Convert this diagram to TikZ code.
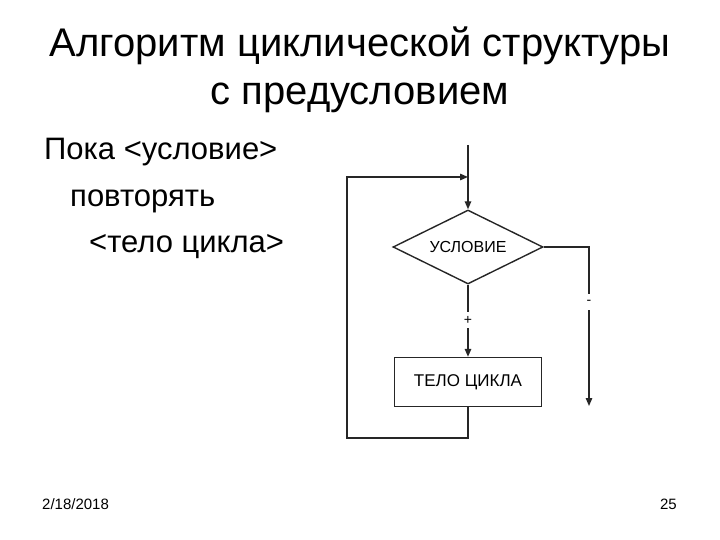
\documentclass[tikz,border=0pt]{standalone}
\usepackage{fontspec}
\setmainfont{Liberation Sans}
\usetikzlibrary{arrows.meta,shapes.geometric}
\begin{document}
\begin{tikzpicture}[x=1pt,y=-1pt,
  conn/.style={line width=1.4pt,draw=black!85},
  arr/.style={conn,-{Triangle[length=8pt,width=6.5pt]}},
  titletxt/.style={inner sep=0pt,anchor=base,font=\fontsize{40}{46}\selectfont},
  bodytxt/.style={inner sep=0pt,anchor=base west,font=\fontsize{31}{36}\selectfont},
  foot/.style={inner sep=0pt,font=\fontsize{15}{18}\selectfont}]
\useasboundingbox (0,0) rectangle (720,540);
% title
\node[titletxt] (t1) at (360,57) {Алгоритм циклической структуры};
\node[titletxt] (t2) at (360,105) {с предусловием};
% left text
\node[bodytxt] (l1) at (44,160) {Пока <условие>};
\node[bodytxt] (l2) at (70,207) {повторять};
\node[bodytxt] (l3) at (89,252) {<тело цикла>};
% footer
\node[foot,anchor=base west] (date) at (42,509) {2/18/2018};
\node[foot,anchor=base east] (num) at (677,509) {25};
% flowchart
\node[diamond,draw=black!85,line width=1.4pt,minimum width=150pt,minimum height=74pt,inner sep=0pt,aspect=2,font=\fontsize{16}{18}\selectfont] (cond) at (468,247) {УСЛОВИЕ};
\node[draw=black!85,line width=1.4pt,minimum width=147pt,minimum height=49pt,inner sep=0pt,font=\fontsize{17}{19}\selectfont] (body) at (468,382) {ТЕЛО ЦИКЛА};
\coordinate (top) at (468,145);
\coordinate (join) at (468,177);
\coordinate (exit) at (589,406);
\draw[conn] (top) -- (join);
\draw[arr] (join) -- (cond.north);
\draw[conn] (cond.south) -- (468,312);
\node[inner sep=0pt,font=\fontsize{14}{16}\selectfont] (plus) at (468,320) {+};
\draw[arr] (468,328) -- (body.north);
\draw[conn] (cond.east) -- (589,247) -- (589,294);
\node[inner sep=0pt,font=\fontsize{14}{16}\selectfont] (minus) at (589,302) {-};
\draw[arr] (589,310) -- (exit);
\draw[arr] (body.south) -- (468,438) -- (347,438) -- (347,177) -- (join);
\end{tikzpicture}
\end{document}
